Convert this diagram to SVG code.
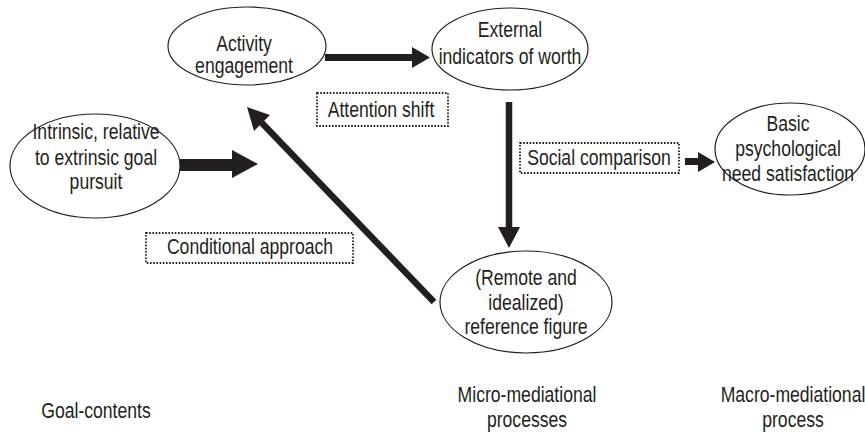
<svg xmlns="http://www.w3.org/2000/svg" width="865" height="435" viewBox="0 0 865 435">
<style>
text{font-family:"Liberation Sans",Arial,sans-serif;font-size:22px;fill:#231f20;text-anchor:middle}
.n{fill:#fff;stroke:#231f20;stroke-width:1.2}
.b{fill:none;stroke:#231f20;stroke-width:1.8;stroke-dasharray:1.6 1.6}
.s{stroke:#231f20;fill:none}
.h{fill:#231f20}
</style>
<rect width="865" height="435" fill="#fff"/>
<g id="connectors">
<line class="s" x1="325" y1="57.5" x2="413" y2="57.5" stroke-width="7"/>
<polygon class="h" points="412,47 430,57.5 412,68"/>
<line class="s" x1="180" y1="165" x2="233" y2="165" stroke-width="12"/>
<polygon class="h" points="232,150 258,164 232,178"/>
<line class="s" x1="434" y1="302" x2="260" y2="121" stroke-width="6.5"/>
<polygon class="h" points="247,107 270,115 254,131"/>
<line class="s" x1="509" y1="102" x2="509" y2="228" stroke-width="6.5"/>
<polygon class="h" points="498,227 520,227 509,248"/>
<line class="s" x1="685" y1="161.5" x2="699" y2="161.5" stroke-width="7"/>
<polygon class="h" points="698,152 715,162 698,172"/>
</g>
<g id="activity">
<ellipse class="n" cx="247" cy="46" rx="79" ry="39"/>
<text transform="translate(244,51) scale(0.8,1)">Activity</text>
<text transform="translate(244,73) scale(0.8,1)">engagement</text>
</g>
<g id="external">
<ellipse class="n" cx="510" cy="49" rx="78" ry="41"/>
<text transform="translate(510,37) scale(0.8,1)">External</text>
<text transform="translate(510,64) scale(0.8,1)">indicators of worth</text>
</g>
<g id="intrinsic">
<ellipse class="n" cx="95" cy="166" rx="85" ry="52"/>
<text transform="translate(96,139) scale(0.8,1)">Intrinsic, relative</text>
<text transform="translate(96,165) scale(0.8,1)">to extrinsic goal</text>
<text transform="translate(96,189) scale(0.8,1)">pursuit</text>
</g>
<g id="basic">
<ellipse class="n" cx="790" cy="149" rx="75" ry="46"/>
<text transform="translate(788,131) scale(0.8,1)">Basic</text>
<text transform="translate(788,156) scale(0.8,1)">psychological</text>
<text transform="translate(788,181) scale(0.8,1)">need satisfaction</text>
</g>
<g id="reference">
<ellipse class="n" cx="526" cy="302" rx="86" ry="51"/>
<text transform="translate(526,285) scale(0.8,1)">(Remote and</text>
<text transform="translate(526,310) scale(0.8,1)">idealized)</text>
<text transform="translate(526,334) scale(0.8,1)">reference figure</text>
</g>
<g id="attention">
<rect class="b" x="317" y="93" width="131" height="33"/>
<text transform="translate(381,117) scale(0.8,1)">Attention shift</text>
</g>
<g id="social">
<rect class="b" x="520" y="143" width="159" height="30"/>
<text transform="translate(599,165) scale(0.8,1)">Social comparison</text>
</g>
<g id="conditional">
<rect class="b" x="146" y="233" width="207" height="30"/>
<text transform="translate(250,254) scale(0.8,1)">Conditional approach</text>
</g>
<g id="labels">
<text transform="translate(96,418) scale(0.8,1)">Goal-contents</text>
<text transform="translate(527,402) scale(0.8,1)">Micro-mediational</text>
<text transform="translate(527,427) scale(0.8,1)">processes</text>
<text transform="translate(793,402) scale(0.8,1)">Macro-mediational</text>
<text transform="translate(793,427) scale(0.8,1)">process</text>
</g>
</svg>
